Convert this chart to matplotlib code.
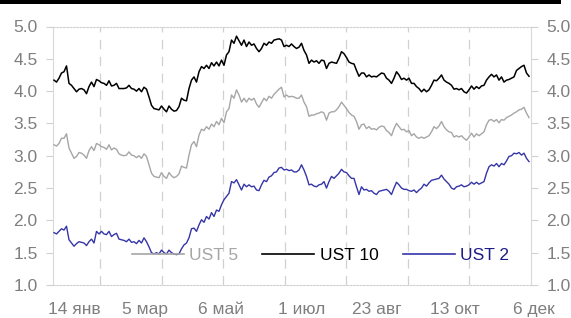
import matplotlib
matplotlib.use("Agg")
import matplotlib.pyplot as plt
import numpy as np
from matplotlib.patches import Rectangle

# ---------------- data ----------------
series_names = ["UST 5", "UST 10", "UST 2"]

ust10 = [4.17, 4.14, 4.20, 4.28, 4.30, 4.39, 4.12, 4.09, 4.04, 3.99, 4.03, 4.04, 4.02, 3.96, 4.07, 4.14, 4.07, 4.18, 4.16, 4.13,
         4.12, 4.09, 4.16, 4.08, 4.09, 4.12, 4.04, 4.04, 4.04, 4.05, 4.09, 4.04, 4.03, 4.00, 4.04, 3.99, 4.06, 4.03, 3.91, 3.78,
         3.73, 3.72, 3.71, 3.77, 3.72, 3.68, 3.77, 3.72, 3.69,
         3.70, 3.76, 3.89, 3.86, 3.85, 4.04, 4.17, 4.22, 4.14, 4.30, 4.38, 4.35, 4.40, 4.35, 4.44, 4.39, 4.45, 4.39, 4.48, 4.40,
         4.56, 4.61, 4.79, 4.74, 4.85, 4.78, 4.71, 4.79, 4.69, 4.76, 4.71, 4.73, 4.66, 4.61, 4.66, 4.74, 4.71, 4.76, 4.74, 4.79,
         4.80, 4.81, 4.79, 4.69, 4.71, 4.69, 4.73, 4.69, 4.66,
         4.68, 4.74, 4.63, 4.56, 4.43, 4.48, 4.45, 4.47, 4.43, 4.48, 4.47, 4.35, 4.43, 4.45, 4.44, 4.43, 4.51, 4.61, 4.58, 4.52,
         4.45, 4.43, 4.42, 4.32, 4.23, 4.28, 4.28, 4.22, 4.25, 4.22, 4.23, 4.22, 4.25, 4.28, 4.27, 4.20, 4.17, 4.12, 4.20, 4.30,
         4.25, 4.18, 4.20, 4.17, 4.20,
         4.12, 4.12, 4.07, 4.04, 3.99, 4.03, 3.99, 4.02, 4.09, 4.17, 4.16, 4.20, 4.25, 4.17, 4.14, 4.12, 4.09, 4.03, 4.04, 4.02,
         4.04, 3.99, 3.97, 4.02, 4.08, 4.03, 4.07, 4.04, 4.08, 4.09, 4.17, 4.22, 4.26, 4.22, 4.25, 4.17, 4.22, 4.14, 4.17, 4.18,
         4.20, 4.22, 4.32, 4.35, 4.38, 4.40, 4.28, 4.23]

ust5 = [3.17, 3.15, 3.19, 3.27, 3.27, 3.34, 3.12, 3.04, 2.96, 2.99, 3.05, 3.04, 3.01, 2.96, 3.08, 3.14, 3.08, 3.19, 3.17, 3.14,
        3.13, 3.10, 3.17, 3.09, 3.12, 3.10, 3.03, 3.01, 3.00, 3.01, 3.06, 3.01, 3.00, 2.97, 3.00, 2.96, 3.03, 2.99, 2.86, 2.73,
        2.68, 2.67, 2.66, 2.74, 2.68, 2.65, 2.74, 2.69, 2.66,
        2.68, 2.72, 2.84, 2.82, 2.81, 3.01, 3.17, 3.22, 3.14, 3.32, 3.41, 3.39, 3.45, 3.41, 3.49, 3.45, 3.53, 3.48, 3.58, 3.51,
        3.68, 3.73, 3.94, 3.89, 4.02, 3.94, 3.83, 3.89, 3.83, 3.89, 3.86, 3.89, 3.80, 3.75, 3.82, 3.89, 3.85, 3.92, 3.89, 3.95,
        3.99, 4.03, 4.06, 3.91, 3.94, 3.91, 3.92, 3.91, 3.89,
        3.89, 3.94, 3.83, 3.76, 3.61, 3.63, 3.63, 3.65, 3.66, 3.68, 3.66, 3.55, 3.66, 3.68, 3.68, 3.71, 3.76, 3.83, 3.78, 3.73,
        3.67, 3.63, 3.61, 3.53, 3.41, 3.48, 3.49, 3.42, 3.45, 3.41, 3.42, 3.40, 3.44, 3.46, 3.45, 3.39, 3.36, 3.31, 3.42, 3.50,
        3.45, 3.40, 3.41, 3.37, 3.39,
        3.31, 3.34, 3.29, 3.27, 3.29, 3.27, 3.29, 3.31, 3.37, 3.45, 3.42, 3.46, 3.53, 3.45, 3.40, 3.37, 3.36, 3.29, 3.31, 3.29,
        3.31, 3.27, 3.24, 3.29, 3.35, 3.29, 3.34, 3.31, 3.34, 3.37, 3.48, 3.55, 3.56, 3.53, 3.56, 3.51, 3.56, 3.55, 3.59, 3.61,
        3.63, 3.66, 3.68, 3.71, 3.72, 3.75, 3.66, 3.59]

ust2 = [1.81, 1.79, 1.83, 1.87, 1.85, 1.91, 1.70, 1.65, 1.60, 1.64, 1.67, 1.66, 1.65, 1.61, 1.67, 1.71, 1.65, 1.83, 1.79, 1.83,
        1.79, 1.78, 1.83, 1.75, 1.78, 1.80, 1.71, 1.70, 1.69, 1.67, 1.71, 1.66, 1.67, 1.64, 1.69, 1.65, 1.73, 1.67, 1.59, 1.50,
        1.48, 1.50, 1.48, 1.54, 1.50, 1.48, 1.54, 1.50, 1.48,
        1.47, 1.48, 1.56, 1.62, 1.65, 1.73, 1.87, 1.88, 1.83, 1.93, 2.01, 1.97, 2.06, 2.02, 2.12, 2.06, 2.16, 2.14, 2.24, 2.32,
        2.37, 2.42, 2.60, 2.58, 2.63, 2.55, 2.47, 2.56, 2.52, 2.55, 2.52, 2.53, 2.47, 2.46, 2.55, 2.62, 2.60, 2.67, 2.69, 2.74,
        2.75, 2.81, 2.82, 2.78, 2.79, 2.77, 2.78, 2.75, 2.75,
        2.78, 2.86, 2.78, 2.68, 2.55, 2.56, 2.53, 2.52, 2.55, 2.56, 2.60, 2.50, 2.60, 2.68, 2.65, 2.69, 2.73, 2.79, 2.75, 2.74,
        2.69, 2.65, 2.65, 2.52, 2.40, 2.52, 2.47, 2.48, 2.45, 2.46, 2.42, 2.40, 2.45, 2.46, 2.47, 2.48, 2.45, 2.40, 2.50, 2.59,
        2.55, 2.50, 2.48, 2.48, 2.46,
        2.45, 2.47, 2.43, 2.47, 2.50, 2.56, 2.53, 2.58, 2.62, 2.63, 2.64, 2.65, 2.70, 2.64, 2.60, 2.56, 2.50, 2.48, 2.52, 2.53,
        2.55, 2.52, 2.53, 2.55, 2.59, 2.56, 2.59, 2.56, 2.58, 2.60, 2.73, 2.83, 2.86, 2.84, 2.88, 2.83, 2.88, 2.86, 2.92, 2.99,
        3.00, 3.04, 3.03, 3.05, 3.01, 3.04, 2.96, 2.91]

x_labels = ["14 янв", "5 мар", "6 май", "1 июл", "23 авг", "13 окт", "6 дек"]
y_ticks = [1.0, 1.5, 2.0, 2.5, 3.0, 3.5, 4.0, 4.5, 5.0]

# ---------------- layout / style ----------------
FONT = ["Liberation Sans Narrow", "Liberation Sans", "DejaVu Sans"]
plt.rcParams["font.family"] = FONT

W, H = 571, 318
fig = plt.figure(figsize=(W / 100, H / 100), dpi=100)
ax_l, ax_r, ax_t, ax_b = 53, 531, 26.5, 285
ax = fig.add_axes([ax_l / W, 1 - ax_b / H, (ax_r - ax_l) / W, (ax_b - ax_t) / H])

n = len(ust10)
x = np.arange(n)
ax.set_xlim(-0.4, n - 0.2)
ax.set_ylim(1.0, 5.0)

colors = {"UST 5": "#a6a6a6", "UST 10": "#000000", "UST 2": "#3535a8"}
text_colors = {"UST 5": "#a6a6a6", "UST 10": "#000000", "UST 2": "#1c1c85"}
data = {"UST 5": ust5, "UST 10": ust10, "UST 2": ust2}
lws = {"UST 5": 1.0, "UST 10": 1.1, "UST 2": 1.0}
handles = []
for name in series_names:
    h, = ax.plot(x, data[name], color=colors[name], lw=lws[name], label=name, zorder=3)
    handles.append(h)

# vertical dashed gridlines
grid_pos = [18.4 + 24.6 * k for k in range(7)]
for gx in grid_pos:
    ax.axvline(gx, color="#d0d0d0", lw=0.9, linestyle=(0, (7.5, 6)), zorder=1)

# x tick labels
label_pos = [8, 36.5, 67, 99, 129, 160.5, 192]
for lp, lab in zip(label_pos, x_labels):
    ax.text(lp, -0.095, lab, transform=ax.get_xaxis_transform(), ha="center", va="center",
            fontsize=12.5, color="#7f7f7f", clip_on=False)
ax.set_xticks([])

# y axes
ax.set_yticks(y_ticks)
ax.set_yticklabels([f"{v:.1f}" for v in y_ticks])
ax.tick_params(axis="y", which="both", direction="out", length=5, width=0.8, color="#d0d0d0",
               labelsize=12.5, labelcolor="#7f7f7f", pad=6, left=True, right=True,
               labelleft=True, labelright=True)

for side in ["left", "right"]:
    ax.spines[side].set_color("#d9d9d9")
    ax.spines[side].set_linewidth(0.8)
for side in ["top", "bottom"]:
    ax.spines[side].set_color("#d0d0d0")
    ax.spines[side].set_linewidth(0.8)
    ax.spines[side].set_linestyle((0, (1.5, 1.5)))

# legend
leg = ax.legend(handles=handles, loc="center", bbox_to_anchor=(0.559, 0.116), ncol=3, frameon=False,
                fontsize=12.5, handlelength=3.0, handletextpad=0.3, columnspacing=1.4,
                borderpad=0, borderaxespad=0)
for t, name in zip(leg.get_texts(), series_names):
    t.set_color(text_colors[name])
for lh in leg.get_lines():
    lh.set_linewidth(1.2)

# top black bar
fig.patches.append(Rectangle((0, 1 - 4 / H), 561 / W, 4 / H, transform=fig.transFigure,
                             facecolor="black", edgecolor="none"))

fig.savefig("out.png", dpi=100)
